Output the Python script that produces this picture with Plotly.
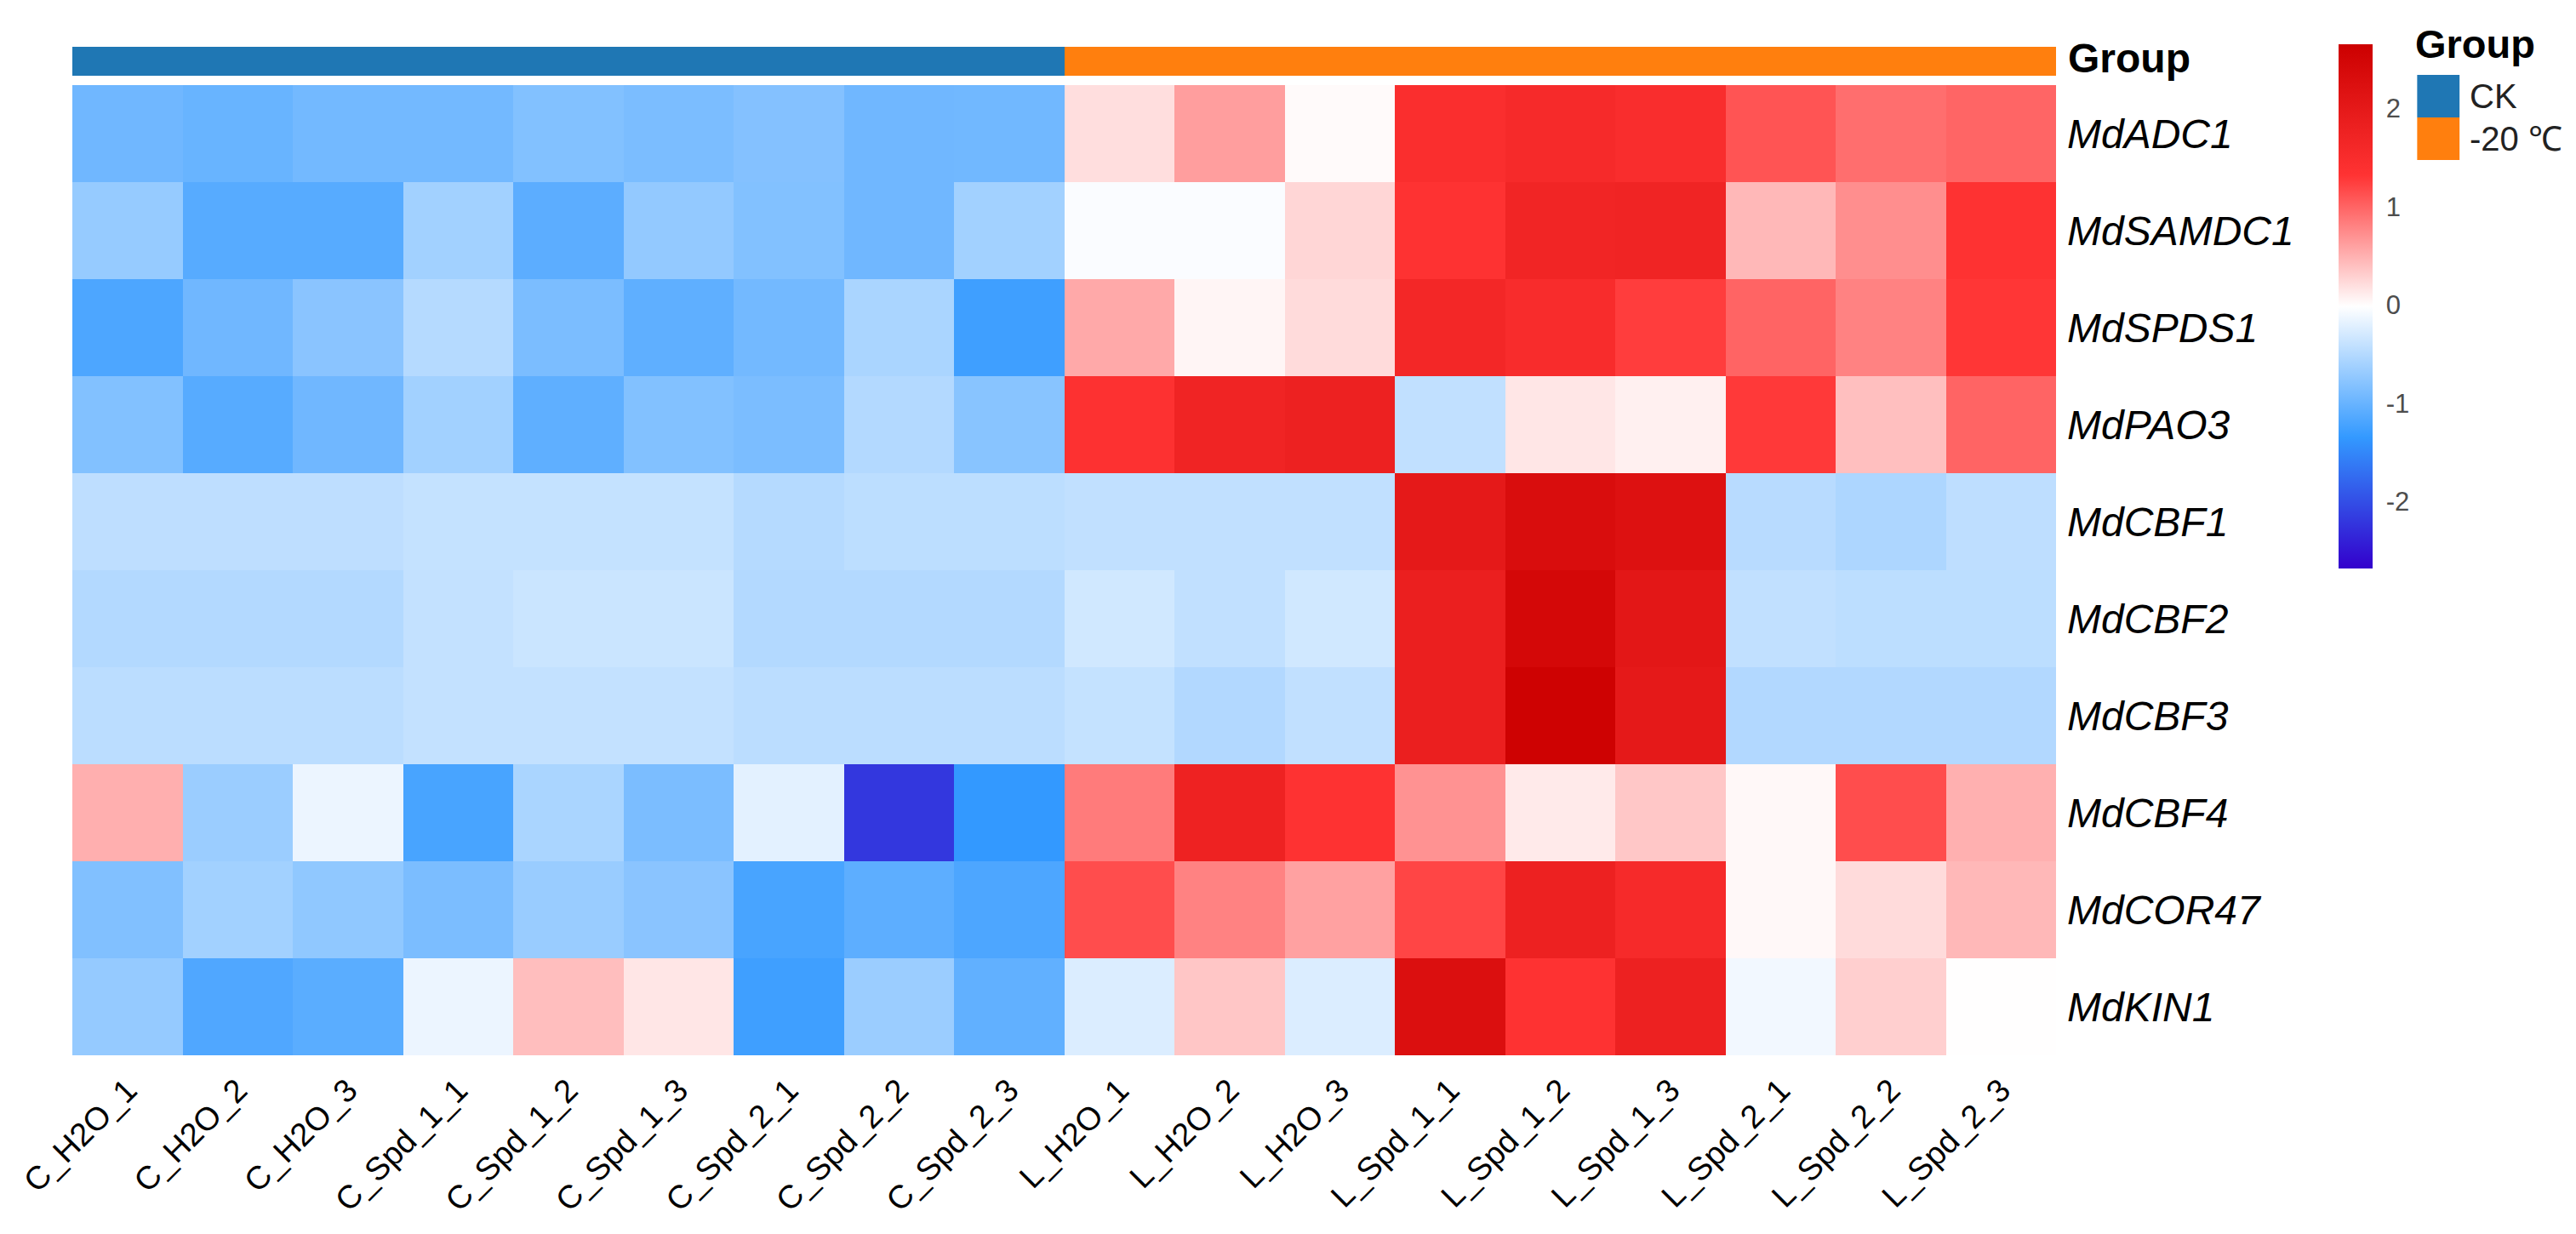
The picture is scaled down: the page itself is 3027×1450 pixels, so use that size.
import plotly.graph_objects as go

genes = ["MdADC1", "MdSAMDC1", "MdSPDS1", "MdPAO3", "MdCBF1",
         "MdCBF2", "MdCBF3", "MdCBF4", "MdCOR47", "MdKIN1"]
samples = ["C_H2O_1", "C_H2O_2", "C_H2O_3",
           "C_Spd_1_1", "C_Spd_1_2", "C_Spd_1_3",
           "C_Spd_2_1", "C_Spd_2_2", "C_Spd_2_3",
           "L_H2O_1", "L_H2O_2", "L_H2O_3",
           "L_Spd_1_1", "L_Spd_1_2", "L_Spd_1_3",
           "L_Spd_2_1", "L_Spd_2_2", "L_Spd_2_3"]
groups = ["CK"] * 9 + ["-20 ℃"] * 9
group_names = ["CK", "-20 ℃"]
group_colors = ["#1F77B4", "#FF7F0E"]

MdADC1   = [-0.95, -1.00, -0.93, -0.93, -0.83, -0.88, -0.82, -0.95, -0.94,  0.20,  0.62,  0.02,  1.45,  1.55,  1.48,  1.10,  0.93,  0.99]
MdSAMDC1 = [-0.70, -1.11, -1.11, -0.62, -1.08, -0.72, -0.83, -0.95, -0.62, -0.05, -0.05,  0.25,  1.35,  1.68,  1.70,  0.45,  0.72,  1.35]
MdSPDS1  = [-1.18, -0.95, -0.78, -0.50, -0.88, -1.06, -0.93, -0.57, -1.27,  0.55,  0.05,  0.22,  1.62,  1.50,  1.25,  1.00,  0.80,  1.30]
MdPAO3   = [-0.83, -1.11, -0.95, -0.62, -1.06, -0.83, -0.88, -0.51, -0.79,  1.38,  1.72,  1.78, -0.42,  0.15,  0.08,  1.28,  0.40,  1.00]
MdCBF1   = [-0.44, -0.44, -0.44, -0.40, -0.40, -0.40, -0.50, -0.45, -0.45, -0.42, -0.42, -0.42,  2.00,  2.30,  2.20, -0.48, -0.55, -0.44]
MdCBF2   = [-0.51, -0.51, -0.51, -0.41, -0.36, -0.36, -0.51, -0.51, -0.51, -0.32, -0.42, -0.32,  1.85,  2.45,  2.05, -0.42, -0.45, -0.45]
MdCBF3   = [-0.46, -0.46, -0.46, -0.41, -0.41, -0.41, -0.46, -0.46, -0.46, -0.40, -0.52, -0.42,  1.85,  2.60,  2.00, -0.52, -0.52, -0.52]
MdCBF4   = [ 0.51, -0.67, -0.14, -1.21, -0.57, -0.88, -0.20, -2.20, -1.35,  0.85,  1.75,  1.35,  0.70,  0.12,  0.35,  0.03,  1.15,  0.50]
MdCOR47  = [-0.84, -0.62, -0.74, -0.88, -0.68, -0.78, -1.21, -1.07, -1.18,  1.15,  0.80,  0.60,  1.20,  1.80,  1.55,  0.03,  0.22,  0.45]
MdKIN1   = [-0.71, -1.16, -1.09, -0.14,  0.41,  0.15, -1.27, -0.67, -1.05, -0.25,  0.36, -0.25,  2.25,  1.35,  1.80, -0.10,  0.30, -0.01]

values = [MdADC1, MdSAMDC1, MdSPDS1, MdPAO3, MdCBF1,
          MdCBF2, MdCBF3, MdCBF4, MdCOR47, MdKIN1]

cbar_ticks = [-2, -1, 0, 1, 2]
cbar_ticktext = ["-2", "-1", "0", "1", "2"]
zmin, zmax = -2.68, 2.65

# The page body has an 8px default margin; build the figure in page pixels
OFF = 8
W, H = 3027 - OFF, 1450 - OFF
L = 76 - OFF
T = 55 - OFF
R = W - (2416 - OFF)
B = H - (1240 - OFF)
plot_w = W - L - R
plot_h = H - T - B


def py(p):  # page pixel y (from top) -> paper y
    return (H - B - (p - OFF)) / plot_h


def px_(p):  # page pixel x -> paper x
    return ((p - OFF) - L) / plot_w


FONT = "Liberation Sans, Arial, sans-serif"

colorscale = [[0.0, "#3300CC"], [0.25, "#3399FF"], [0.5, "#FFFFFF"],
              [0.75, "#FF3333"], [1.0, "#CC0000"]]

fig = go.Figure()

fig.add_trace(go.Heatmap(
    z=values, x=samples, y=genes,
    colorscale=colorscale, zmin=zmin, zmax=zmax,
    xaxis="x", yaxis="y",
    colorbar=dict(
        x=px_(2749), xanchor="left", xref="paper",
        y=py(52), yanchor="top", yref="paper",
        len=616, lenmode="pixels",
        thickness=40, thicknessmode="pixels",
        xpad=0, ypad=0,
        outlinewidth=0,
        tickvals=cbar_ticks, ticktext=cbar_ticktext,
        ticks="outside", ticklen=10, tickcolor="rgba(0,0,0,0)",
        tickfont=dict(family=FONT, size=31, color="#4D4D4D"),
    ),
))

group_idx = [group_names.index(g) for g in groups]
fig.add_trace(go.Heatmap(
    z=[group_idx], x=samples, y=["Group"],
    colorscale=[[0, group_colors[0]], [0.5, group_colors[0]],
                [0.5, group_colors[1]], [1, group_colors[1]]],
    zmin=0, zmax=1, showscale=False,
    xaxis="x", yaxis="y2",
))

fig.update_layout(
    width=W, height=H,
    margin=dict(l=L, r=R, t=T, b=B),
    paper_bgcolor="white", plot_bgcolor="white",
    font=dict(family=FONT, color="black"),
    xaxis=dict(
        domain=[0, 1], tickangle=-45, showgrid=False, zeroline=False,
        showline=False, ticks="", ticklabelstandoff=10,
        tickfont=dict(family=FONT, size=38, color="black"),
        anchor="y",
    ),
    yaxis=dict(
        domain=[0, py(100)], autorange="reversed", side="right",
        showgrid=False, zeroline=False, showline=False, ticks="",
        ticklabelstandoff=12,
        tickfont=dict(family=FONT, size=48, color="black", style="italic"),
        anchor="x",
    ),
    yaxis2=dict(
        domain=[py(89), 1], showticklabels=False, showgrid=False,
        zeroline=False, showline=False, ticks="", anchor="x",
    ),
)

# "Group" annotation-bar label
fig.add_annotation(
    x=px_(2428), y=py(68), xref="paper", yref="paper",
    xanchor="left", yanchor="middle", showarrow=False,
    text="<b>Group</b>", font=dict(family=FONT, size=48, color="black"),
)

# Group legend
fig.add_annotation(
    x=px_(2838), y=py(52), xref="paper", yref="paper",
    xanchor="left", yanchor="middle", showarrow=False,
    text="<b>Group</b>", font=dict(family=FONT, size=47, color="black"),
)
sw_top = 88
sw_h = 50
for i, (name, col) in enumerate(zip(group_names, group_colors)):
    y0 = sw_top + i * sw_h
    fig.add_shape(type="rect", xref="paper", yref="paper",
                  x0=px_(2842), x1=px_(2892), y0=py(y0), y1=py(y0 + sw_h),
                  fillcolor=col, line=dict(width=0))
    fig.add_annotation(
        x=px_(2902), y=py(y0 + sw_h / 2), xref="paper", yref="paper",
        xanchor="left", yanchor="middle", showarrow=False,
        text=name, font=dict(family=FONT, size=40, color="#222222"),
    )

fig.write_html("out.html")
